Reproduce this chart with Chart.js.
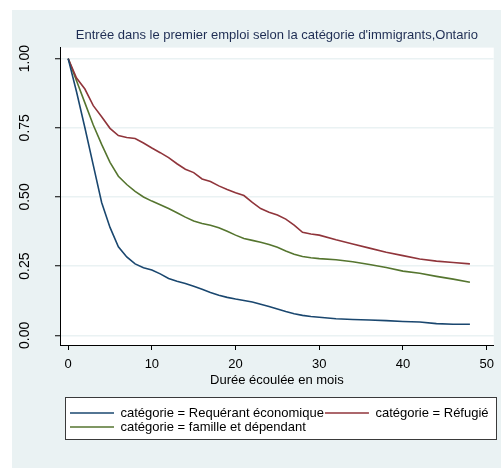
<!DOCTYPE html>
<html>
<head>
<meta charset="utf-8">
<script src="https://cdn.jsdelivr.net/npm/chart.js@4/dist/chart.umd.min.js"></script>
<style>
  html, body { margin: 0; padding: 0; background: #ffffff; }
  #wrap { width: 501px; height: 468px; }
</style>
</head>
<body>
<div id="wrap"><canvas id="c" width="501" height="468"></canvas></div>
<script>
// Kaplan-Meier style survival estimates: share still without a first job
const months = [0, 1, 2, 3, 4, 5, 6, 7, 8, 9, 10, 11, 12, 13, 14, 15, 16, 17, 18, 19,
  20, 21, 22, 23, 24, 25, 26, 27, 28, 29, 30, 32, 34, 36, 38, 40, 42, 44, 46, 48];

const economique = [1.00, 0.88, 0.75, 0.615, 0.48, 0.39, 0.32, 0.283, 0.258, 0.244,
  0.236, 0.222, 0.205, 0.195, 0.187, 0.177, 0.166, 0.155, 0.145, 0.137,
  0.131, 0.126, 0.120, 0.112, 0.104, 0.095, 0.086, 0.078, 0.072, 0.068,
  0.065, 0.060, 0.057, 0.055, 0.053, 0.050, 0.048, 0.042, 0.040, 0.040];

const refugie = [1.00, 0.93, 0.89, 0.83, 0.79, 0.748, 0.722, 0.715, 0.711, 0.695,
  0.677, 0.660, 0.642, 0.620, 0.600, 0.588, 0.565, 0.556, 0.540, 0.527,
  0.515, 0.505, 0.480, 0.458, 0.445, 0.435, 0.420, 0.398, 0.372, 0.366,
  0.362, 0.345, 0.330, 0.315, 0.300, 0.288, 0.276, 0.268, 0.263, 0.258];

const famille = [1.00, 0.92, 0.84, 0.76, 0.69, 0.625, 0.575, 0.545, 0.520, 0.500,
  0.485, 0.472, 0.458, 0.443, 0.427, 0.413, 0.404, 0.398, 0.389, 0.376,
  0.362, 0.350, 0.343, 0.336, 0.328, 0.318, 0.305, 0.293, 0.285, 0.280,
  0.277, 0.273, 0.266, 0.256, 0.245, 0.232, 0.224, 0.213, 0.203, 0.192];

const xTicks = [0, 10, 20, 30, 40, 50];
const yTicks = [0, 0.25, 0.5, 0.75, 1];
const yTickLabels = ['0.00', '0.25', '0.50', '0.75', '1.00'];

const seriesNames = [
  'catégorie = Requérant économique',
  'catégorie = Réfugié',
  'catégorie = famille et dépendant'
];
const seriesValues = [economique, refugie, famille];
const seriesColors = ['rgb(26,71,111)', 'rgb(144,53,59)', 'rgb(85,117,47)'];

const titleText = "Entrée dans le premier emploi selon la catégorie d'immigrants,Ontario";
const xTitle = 'Durée écoulée en mois';

const FONT = '"Liberation Sans", Arial, Helvetica, sans-serif';
const PAGE_BG = 'rgb(234,242,243)';

// Page background, white plot region, legend frame, rotated y labels
const framePlugin = {
  id: 'frame',
  afterLayout(chart) {
    const lg = chart.legend;
    if (lg) { lg.left = 69; }
  },
  beforeDraw(chart) {
    const { ctx, chartArea } = chart;
    ctx.save();
    ctx.fillStyle = '#ffffff';
    ctx.fillRect(0, 0, chart.width, chart.height);
    ctx.fillStyle = PAGE_BG;
    ctx.fillRect(12, 10, chart.width - 12, chart.height - 10);
    ctx.fillStyle = '#ffffff';
    ctx.fillRect(chartArea.left, chartArea.top, chartArea.right - chartArea.left, chartArea.bottom - chartArea.top);
    // legend frame
    ctx.fillStyle = '#ffffff';
    ctx.fillRect(65, 397, 432, 43);
    ctx.strokeStyle = '#3a3a3a';
    ctx.lineWidth = 1;
    ctx.strokeRect(65.5, 397.5, 431, 42);
    ctx.restore();
  },
  afterDraw(chart) {
    const { ctx } = chart;
    const ys = chart.scales.y;
    ctx.save();
    ctx.fillStyle = '#000000';
    ctx.font = '14px ' + FONT;
    ctx.textAlign = 'center';
    ctx.textBaseline = 'middle';
    yTicks.forEach((v, i) => {
      const py = ys.getPixelForValue(v);
      ctx.save();
      ctx.translate(25, py);
      ctx.rotate(-Math.PI / 2);
      ctx.fillText(yTickLabels[i], 0, 0);
      ctx.restore();
    });
    ctx.restore();
  }
};

const datasets = seriesValues.map((vals, i) => ({
  label: seriesNames[i],
  data: months.map((m, k) => ({ x: m, y: vals[k] })),
  borderColor: seriesColors[i],
  backgroundColor: seriesColors[i],
  borderWidth: 1.6,
  pointRadius: 0,
  fill: false,
  tension: 0
}));

new Chart(document.getElementById('c'), {
  type: 'line',
  data: { datasets },
  plugins: [framePlugin],
  options: {
    responsive: false,
    devicePixelRatio: 1,
    animation: false,
    events: [],
    layout: { autoPadding: false, padding: { top: 20, left: 0, right: 0, bottom: 24.5 } },
    scales: {
      x: {
        type: 'linear',
        min: -0.975,
        max: 50.85,
        afterBuildTicks(scale) { scale.ticks = xTicks.map(v => ({ value: v })); },
        afterFit(scale) { scale.height = 60.5; },
        grid: { drawOnChartArea: false, drawTicks: true, tickLength: 5, tickColor: '#000000', tickWidth: 1 },
        border: { display: true, color: '#000000', width: 1 },
        ticks: { color: '#000000', padding: 7, maxRotation: 0, font: { family: FONT, size: 13 },
          callback: v => String(v) },
        title: { display: true, text: xTitle, color: '#000000', font: { family: FONT, size: 13 },
          padding: { top: 0, bottom: 17.7 } }
      },
      y: {
        type: 'linear',
        min: -0.0351,
        max: 1.0398,
        afterBuildTicks(scale) { scale.ticks = yTicks.map(v => ({ value: v })); },
        afterFit(scale) { scale.width = 60; },
        grid: { drawOnChartArea: true, color: PAGE_BG, lineWidth: 1.5, drawTicks: true, tickLength: 5,
          tickColor: '#000000', tickWidth: 1 },
        border: { display: true, color: '#000000', width: 1 },
        ticks: { display: false }
      }
    },
    plugins: {
      title: {
        display: true,
        fullSize: false,
        text: titleText,
        color: 'rgb(30,45,83)',
        font: { family: FONT, size: 13, weight: 'normal' },
        padding: { top: 8, bottom: 4 }
      },
      legend: {
        display: true,
        position: 'bottom',
        align: 'start',
        labels: {
          boxWidth: 44,
          boxHeight: 1.5,
          padding: 1,
          color: '#000000',
          font: { family: FONT, size: 13 },
          generateLabels: () => seriesNames.map((t, i) => ({
            text: t,
            fillStyle: seriesColors[i],
            strokeStyle: seriesColors[i],
            lineWidth: 0,
            hidden: false,
            datasetIndex: i,
            fontColor: '#000000'
          }))
        }
      },
      tooltip: { enabled: false }
    }
  }
});
</script>
</body>
</html>
